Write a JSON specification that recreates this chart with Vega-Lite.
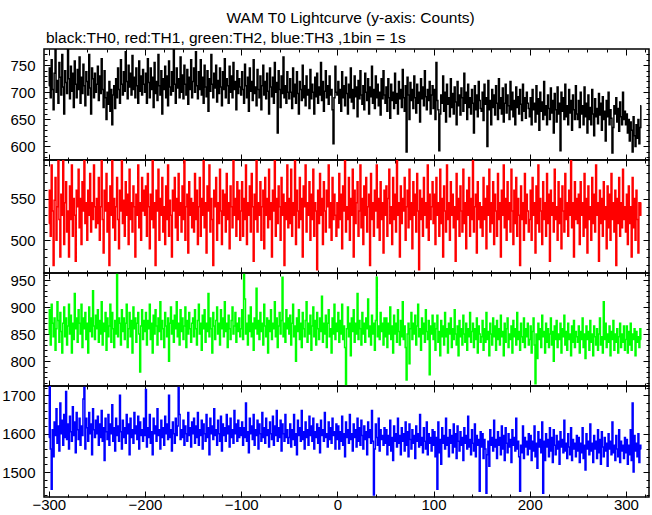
{
"$schema":"https://vega.github.io/schema/vega-lite/v6.json",
"background":"white",
"padding":{"left":0,"top":10,"right":0,"bottom":0},
"title":{"text":"WAM T0 Lightcurve (y-axis: Counts)","anchor":"middle","font":"Liberation Sans","fontSize":15.5,"fontWeight":"normal","color":"black","dx":25,"offset":4},
"spacing":0,
"bounds":"flush",
"config":{"view":{"stroke":"black","strokeWidth":1.5},"axis":{"labelFont":"Liberation Sans","labelFontSize":15,"labelColor":"black","tickColor":"black","tickWidth":1,"domain":false,"grid":false,"labelOverlap":false,"labelFlush":false,"format":"d"},"axisY":{"minExtent":40,"maxExtent":40},"axisX":{"minExtent":0,"maxExtent":0}},
"data":{"values":[
{"t":-300,"a":712,"b":520,"c":850,"d":1590},{"t":-299,"a":745,"b":560,"c":895,"d":1725},{"t":-298,"a":690,"b":505,"c":830,"d":1560},{"t":-297,"a":760,"b":590,"c":905,"d":1455},{"t":-296,"a":705,"b":535,"c":870,"d":1610},{"t":-295,"a":668,"b":470,"c":845,"d":1540},{"t":-294,"a":735,"b":548,"c":880,"d":1630},{"t":-293,"a":790,"b":575,"c":820,"d":1595},{"t":-292,"a":700,"b":500,"c":860,"d":1665},{"t":-291,"a":722,"b":540,"c":910,"d":1575},
{"t":-290,"a":680,"b":600,"c":875,"d":1620},{"t":-289,"a":755,"b":525,"c":835,"d":1555},{"t":-288,"a":728,"b":480,"c":890,"d":1680},{"t":-287,"a":695,"b":555,"c":855,"d":1600},{"t":-286,"a":770,"b":530,"c":815,"d":1635},{"t":-285,"a":710,"b":610,"c":870,"d":1570},{"t":-284,"a":660,"b":495,"c":900,"d":1650},{"t":-283,"a":740,"b":545,"c":845,"d":1590},{"t":-282,"a":718,"b":570,"c":880,"d":1710},{"t":-281,"a":698,"b":510,"c":830,"d":1585},
{"t":-280,"a":785,"b":535,"c":865,"d":1625},{"t":-279,"a":725,"b":480,"c":905,"d":1560},{"t":-278,"a":688,"b":565,"c":850,"d":1645},{"t":-277,"a":748,"b":525,"c":885,"d":1605},{"t":-276,"a":702,"b":590,"c":815,"d":1580},{"t":-275,"a":735,"b":505,"c":870,"d":1670},{"t":-274,"a":672,"b":550,"c":840,"d":1595},{"t":-273,"a":758,"b":530,"c":925,"d":1630},{"t":-272,"a":715,"b":475,"c":860,"d":1550},{"t":-271,"a":690,"b":560,"c":880,"d":1655},
{"t":-270,"a":742,"b":540,"c":835,"d":1610},{"t":-269,"a":705,"b":585,"c":895,"d":1585},{"t":-268,"a":765,"b":515,"c":870,"d":1640},{"t":-267,"a":680,"b":550,"c":850,"d":1570},{"t":-266,"a":728,"b":495,"c":905,"d":1620},{"t":-265,"a":698,"b":570,"c":825,"d":1595},{"t":-264,"a":752,"b":535,"c":880,"d":1690},{"t":-263,"a":712,"b":605,"c":860,"d":1720},{"t":-262,"a":675,"b":520,"c":890,"d":1560},{"t":-261,"a":738,"b":545,"c":840,"d":1640},
{"t":-260,"a":720,"b":500,"c":870,"d":1615},{"t":-259,"a":695,"b":560,"c":815,"d":1580},{"t":-258,"a":770,"b":530,"c":900,"d":1655},{"t":-257,"a":708,"b":580,"c":855,"d":1600},{"t":-256,"a":660,"b":510,"c":880,"d":1625},{"t":-255,"a":745,"b":545,"c":845,"d":1545},{"t":-254,"a":725,"b":525,"c":930,"d":1665},{"t":-253,"a":690,"b":590,"c":865,"d":1610},{"t":-252,"a":735,"b":540,"c":840,"d":1590},{"t":-251,"a":700,"b":515,"c":885,"d":1635},
{"t":-250,"a":715,"b":550,"c":860,"d":1600},{"t":-249,"a":748,"b":520,"c":895,"d":1645},{"t":-248,"a":685,"b":575,"c":835,"d":1570},{"t":-247,"a":730,"b":500,"c":875,"d":1625},{"t":-246,"a":698,"b":540,"c":850,"d":1590},{"t":-245,"a":762,"b":598,"c":910,"d":1660},{"t":-244,"a":705,"b":525,"c":830,"d":1580},{"t":-243,"a":672,"b":485,"c":870,"d":1615},{"t":-242,"a":740,"b":560,"c":855,"d":1530},{"t":-241,"a":690,"b":535,"c":890,"d":1640},
{"t":-240,"a":650,"b":580,"c":820,"d":1605},{"t":-239,"a":700,"b":510,"c":880,"d":1585},{"t":-238,"a":678,"b":545,"c":845,"d":1650},{"t":-237,"a":720,"b":470,"c":865,"d":1570},{"t":-236,"a":665,"b":565,"c":905,"d":1625},{"t":-235,"a":705,"b":530,"c":835,"d":1600},{"t":-234,"a":640,"b":595,"c":890,"d":1675},{"t":-233,"a":695,"b":515,"c":860,"d":1580},{"t":-232,"a":712,"b":550,"c":825,"d":1615},{"t":-231,"a":670,"b":500,"c":875,"d":1555},
{"t":-230,"a":725,"b":540,"c":850,"d":1640},{"t":-229,"a":690,"b":575,"c":960,"d":1595},{"t":-228,"a":745,"b":525,"c":845,"d":1620},{"t":-227,"a":705,"b":490,"c":880,"d":1580},{"t":-226,"a":680,"b":560,"c":870,"d":1700},{"t":-225,"a":760,"b":535,"c":830,"d":1605},{"t":-224,"a":715,"b":600,"c":895,"d":1560},{"t":-223,"a":695,"b":520,"c":855,"d":1635},{"t":-222,"a":738,"b":548,"c":880,"d":1590},{"t":-221,"a":702,"b":505,"c":840,"d":1615},
{"t":-220,"a":775,"b":570,"c":870,"d":1575},{"t":-219,"a":720,"b":530,"c":905,"d":1650},{"t":-218,"a":688,"b":555,"c":825,"d":1600},{"t":-217,"a":750,"b":495,"c":860,"d":1625},{"t":-216,"a":710,"b":585,"c":890,"d":1545},{"t":-215,"a":735,"b":525,"c":845,"d":1640},{"t":-214,"a":695,"b":545,"c":875,"d":1590},{"t":-213,"a":768,"b":510,"c":815,"d":1610},{"t":-212,"a":705,"b":565,"c":900,"d":1575},{"t":-211,"a":728,"b":540,"c":860,"d":1655},
{"t":-210,"a":690,"b":480,"c":880,"d":1600},{"t":-209,"a":745,"b":555,"c":835,"d":1620},{"t":-208,"a":712,"b":530,"c":870,"d":1585},{"t":-207,"a":680,"b":590,"c":890,"d":1645},{"t":-206,"a":758,"b":515,"c":850,"d":1560},{"t":-205,"a":702,"b":545,"c":780,"d":1630},{"t":-204,"a":730,"b":500,"c":865,"d":1595},{"t":-203,"a":695,"b":575,"c":895,"d":1610},{"t":-202,"a":742,"b":535,"c":840,"d":1580},{"t":-201,"a":715,"b":560,"c":875,"d":1640},
{"t":-200,"a":700,"b":530,"c":855,"d":1595},{"t":-199,"a":735,"b":565,"c":890,"d":1715},{"t":-198,"a":680,"b":505,"c":830,"d":1565},{"t":-197,"a":762,"b":580,"c":875,"d":1615},{"t":-196,"a":718,"b":540,"c":860,"d":1590},{"t":-195,"a":690,"b":490,"c":905,"d":1650},{"t":-194,"a":745,"b":555,"c":840,"d":1575},{"t":-193,"a":705,"b":525,"c":870,"d":1605},{"t":-192,"a":728,"b":600,"c":815,"d":1545},{"t":-191,"a":672,"b":515,"c":885,"d":1640},
{"t":-190,"a":755,"b":545,"c":850,"d":1600},{"t":-189,"a":698,"b":470,"c":895,"d":1620},{"t":-188,"a":720,"b":560,"c":865,"d":1580},{"t":-187,"a":685,"b":535,"c":830,"d":1665},{"t":-186,"a":770,"b":585,"c":880,"d":1595},{"t":-185,"a":712,"b":500,"c":855,"d":1610},{"t":-184,"a":695,"b":550,"c":910,"d":1560},{"t":-183,"a":740,"b":530,"c":840,"d":1635},{"t":-182,"a":660,"b":575,"c":875,"d":1590},{"t":-181,"a":725,"b":510,"c":860,"d":1615},
{"t":-180,"a":705,"b":540,"c":825,"d":1570},{"t":-179,"a":748,"b":495,"c":890,"d":1645},{"t":-178,"a":690,"b":565,"c":865,"d":1600},{"t":-177,"a":730,"b":525,"c":845,"d":1625},{"t":-176,"a":675,"b":590,"c":880,"d":1585},{"t":-175,"a":758,"b":505,"c":800,"d":1700},{"t":-174,"a":710,"b":548,"c":870,"d":1590},{"t":-173,"a":695,"b":530,"c":900,"d":1610},{"t":-172,"a":738,"b":480,"c":850,"d":1555},{"t":-171,"a":702,"b":560,"c":875,"d":1630},
{"t":-170,"a":785,"b":535,"c":835,"d":1600},{"t":-169,"a":715,"b":575,"c":885,"d":1575},{"t":-168,"a":680,"b":515,"c":860,"d":1640},{"t":-167,"a":745,"b":550,"c":910,"d":1595},{"t":-166,"a":708,"b":500,"c":845,"d":1620},{"t":-165,"a":725,"b":580,"c":870,"d":1720},{"t":-164,"a":690,"b":530,"c":830,"d":1650},{"t":-163,"a":765,"b":545,"c":895,"d":1585},{"t":-162,"a":700,"b":510,"c":855,"d":1610},{"t":-161,"a":732,"b":565,"c":880,"d":1590},
{"t":-160,"a":688,"b":525,"c":840,"d":1635},{"t":-159,"a":750,"b":595,"c":865,"d":1570},{"t":-158,"a":715,"b":500,"c":900,"d":1620},{"t":-157,"a":695,"b":540,"c":825,"d":1600},{"t":-156,"a":742,"b":555,"c":875,"d":1580},{"t":-155,"a":678,"b":485,"c":850,"d":1655},{"t":-154,"a":728,"b":570,"c":890,"d":1595},{"t":-153,"a":705,"b":530,"c":860,"d":1615},{"t":-152,"a":760,"b":550,"c":835,"d":1565},{"t":-151,"a":690,"b":515,"c":870,"d":1630},
{"t":-150,"a":720,"b":545,"c":880,"d":1600},{"t":-149,"a":745,"b":510,"c":845,"d":1640},{"t":-148,"a":700,"b":580,"c":895,"d":1575},{"t":-147,"a":775,"b":525,"c":860,"d":1620},{"t":-146,"a":712,"b":560,"c":830,"d":1590},{"t":-145,"a":688,"b":495,"c":875,"d":1655},{"t":-144,"a":738,"b":540,"c":905,"d":1570},{"t":-143,"a":705,"b":575,"c":850,"d":1610},{"t":-142,"a":760,"b":505,"c":870,"d":1595},{"t":-141,"a":695,"b":550,"c":820,"d":1635},
{"t":-140,"a":728,"b":530,"c":885,"d":1560},{"t":-139,"a":680,"b":600,"c":860,"d":1625},{"t":-138,"a":750,"b":515,"c":895,"d":1600},{"t":-137,"a":710,"b":545,"c":835,"d":1580},{"t":-136,"a":692,"b":485,"c":870,"d":1650},{"t":-135,"a":740,"b":565,"c":855,"d":1590},{"t":-134,"a":665,"b":535,"c":925,"d":1615},{"t":-133,"a":725,"b":590,"c":845,"d":1545},{"t":-132,"a":702,"b":510,"c":880,"d":1640},{"t":-131,"a":770,"b":550,"c":860,"d":1600},
{"t":-130,"a":715,"b":525,"c":815,"d":1620},{"t":-129,"a":690,"b":470,"c":890,"d":1585},{"t":-128,"a":735,"b":560,"c":865,"d":1665},{"t":-127,"a":708,"b":540,"c":840,"d":1595},{"t":-126,"a":750,"b":575,"c":875,"d":1610},{"t":-125,"a":682,"b":500,"c":900,"d":1570},{"t":-124,"a":722,"b":545,"c":850,"d":1635},{"t":-123,"a":698,"b":520,"c":870,"d":1600},{"t":-122,"a":745,"b":585,"c":830,"d":1580},{"t":-121,"a":710,"b":535,"c":895,"d":1645},
{"t":-120,"a":675,"b":495,"c":860,"d":1555},{"t":-119,"a":738,"b":560,"c":880,"d":1625},{"t":-118,"a":705,"b":530,"c":845,"d":1595},{"t":-117,"a":762,"b":555,"c":910,"d":1615},{"t":-116,"a":690,"b":510,"c":855,"d":1580},{"t":-115,"a":725,"b":580,"c":870,"d":1650},{"t":-114,"a":712,"b":525,"c":825,"d":1600},{"t":-113,"a":680,"b":545,"c":885,"d":1620},{"t":-112,"a":748,"b":490,"c":860,"d":1565},{"t":-111,"a":700,"b":565,"c":840,"d":1640},
{"t":-110,"a":730,"b":540,"c":875,"d":1590},{"t":-109,"a":690,"b":515,"c":900,"d":1610},{"t":-108,"a":755,"b":595,"c":850,"d":1575},{"t":-107,"a":705,"b":530,"c":865,"d":1660},{"t":-106,"a":720,"b":550,"c":890,"d":1600},{"t":-105,"a":668,"b":505,"c":835,"d":1625},{"t":-104,"a":740,"b":570,"c":870,"d":1580},{"t":-103,"a":698,"b":525,"c":855,"d":1635},{"t":-102,"a":725,"b":560,"c":880,"d":1590},{"t":-101,"a":710,"b":500,"c":845,"d":1615},
{"t":-100,"a":695,"b":535,"c":860,"d":1595},{"t":-99,"a":738,"b":570,"c":895,"d":1630},{"t":-98,"a":705,"b":505,"c":840,"d":1570},{"t":-97,"a":680,"b":550,"c":960,"d":1615},{"t":-96,"a":752,"b":525,"c":915,"d":1590},{"t":-95,"a":712,"b":590,"c":850,"d":1680},{"t":-94,"a":690,"b":495,"c":870,"d":1580},{"t":-93,"a":728,"b":545,"c":830,"d":1605},{"t":-92,"a":665,"b":530,"c":885,"d":1550},{"t":-91,"a":745,"b":565,"c":855,"d":1640},
{"t":-90,"a":702,"b":510,"c":900,"d":1600},{"t":-89,"a":720,"b":580,"c":845,"d":1620},{"t":-88,"a":685,"b":540,"c":870,"d":1585},{"t":-87,"a":760,"b":475,"c":820,"d":1650},{"t":-86,"a":698,"b":555,"c":880,"d":1570},{"t":-85,"a":710,"b":525,"c":860,"d":1610},{"t":-84,"a":675,"b":600,"c":935,"d":1595},{"t":-83,"a":742,"b":510,"c":850,"d":1635},{"t":-82,"a":705,"b":545,"c":875,"d":1560},{"t":-81,"a":690,"b":530,"c":840,"d":1625},
{"t":-80,"a":730,"b":570,"c":890,"d":1600},{"t":-79,"a":668,"b":500,"c":855,"d":1580},{"t":-78,"a":712,"b":540,"c":870,"d":1655},{"t":-77,"a":750,"b":560,"c":830,"d":1590},{"t":-76,"a":695,"b":490,"c":905,"d":1615},{"t":-75,"a":720,"b":575,"c":865,"d":1575},{"t":-74,"a":688,"b":530,"c":845,"d":1640},{"t":-73,"a":735,"b":550,"c":880,"d":1595},{"t":-72,"a":702,"b":515,"c":815,"d":1610},{"t":-71,"a":660,"b":585,"c":875,"d":1565},
{"t":-70,"a":745,"b":525,"c":855,"d":1630},{"t":-69,"a":710,"b":545,"c":895,"d":1600},{"t":-68,"a":692,"b":480,"c":840,"d":1585},{"t":-67,"a":728,"b":560,"c":870,"d":1645},{"t":-66,"a":680,"b":535,"c":860,"d":1570},{"t":-65,"a":755,"b":595,"c":910,"d":1620},{"t":-64,"a":700,"b":505,"c":845,"d":1595},{"t":-63,"a":718,"b":550,"c":880,"d":1660},{"t":-62,"a":625,"b":520,"c":825,"d":1580},{"t":-61,"a":740,"b":565,"c":865,"d":1615},
{"t":-60,"a":705,"b":540,"c":890,"d":1590},{"t":-59,"a":672,"b":500,"c":850,"d":1635},{"t":-58,"a":730,"b":575,"c":875,"d":1555},{"t":-57,"a":698,"b":530,"c":955,"d":1625},{"t":-56,"a":765,"b":555,"c":845,"d":1600},{"t":-55,"a":690,"b":470,"c":870,"d":1580},{"t":-54,"a":712,"b":545,"c":835,"d":1650},{"t":-53,"a":680,"b":525,"c":895,"d":1590},{"t":-52,"a":738,"b":590,"c":860,"d":1610},{"t":-51,"a":700,"b":515,"c":880,"d":1575},
{"t":-50,"a":688,"b":550,"c":850,"d":1590},{"t":-49,"a":725,"b":520,"c":885,"d":1625},{"t":-48,"a":700,"b":585,"c":830,"d":1565},{"t":-47,"a":670,"b":505,"c":870,"d":1610},{"t":-46,"a":745,"b":545,"c":905,"d":1585},{"t":-45,"a":692,"b":530,"c":845,"d":1650},{"t":-44,"a":715,"b":600,"c":865,"d":1570},{"t":-43,"a":680,"b":495,"c":800,"d":1600},{"t":-42,"a":738,"b":560,"c":880,"d":1545},{"t":-41,"a":698,"b":535,"c":855,"d":1635},
{"t":-40,"a":660,"b":515,"c":895,"d":1595},{"t":-39,"a":720,"b":575,"c":840,"d":1615},{"t":-38,"a":705,"b":525,"c":870,"d":1580},{"t":-37,"a":685,"b":550,"c":825,"d":1660},{"t":-36,"a":750,"b":480,"c":890,"d":1585},{"t":-35,"a":690,"b":565,"c":860,"d":1605},{"t":-34,"a":712,"b":540,"c":845,"d":1560},{"t":-33,"a":675,"b":590,"c":875,"d":1630},{"t":-32,"a":730,"b":510,"c":910,"d":1590},{"t":-31,"a":695,"b":545,"c":835,"d":1610},
{"t":-30,"a":705,"b":530,"c":870,"d":1570},{"t":-29,"a":670,"b":570,"c":850,"d":1645},{"t":-28,"a":742,"b":500,"c":885,"d":1595},{"t":-27,"a":688,"b":555,"c":820,"d":1620},{"t":-26,"a":715,"b":525,"c":865,"d":1580},{"t":-25,"a":700,"b":585,"c":900,"d":1640},{"t":-24,"a":660,"b":505,"c":845,"d":1560},{"t":-23,"a":728,"b":545,"c":875,"d":1605},{"t":-22,"a":692,"b":535,"c":830,"d":1590},{"t":-21,"a":735,"b":465,"c":890,"d":1625},
{"t":-20,"a":680,"b":560,"c":860,"d":1575},{"t":-19,"a":710,"b":520,"c":840,"d":1615},{"t":-18,"a":695,"b":580,"c":880,"d":1550},{"t":-17,"a":755,"b":530,"c":855,"d":1635},{"t":-16,"a":685,"b":550,"c":920,"d":1595},{"t":-15,"a":720,"b":495,"c":835,"d":1610},{"t":-14,"a":665,"b":570,"c":870,"d":1580},{"t":-13,"a":702,"b":535,"c":850,"d":1655},{"t":-12,"a":740,"b":510,"c":885,"d":1590},{"t":-11,"a":690,"b":560,"c":825,"d":1600},
{"t":-10,"a":712,"b":540,"c":870,"d":1565},{"t":-9,"a":678,"b":590,"c":895,"d":1630},{"t":-8,"a":730,"b":515,"c":845,"d":1585},{"t":-7,"a":695,"b":545,"c":860,"d":1615},{"t":-6,"a":705,"b":500,"c":815,"d":1575},{"t":-5,"a":668,"b":575,"c":880,"d":1640},{"t":-4,"a":605,"b":525,"c":850,"d":1595},{"t":-3,"a":690,"b":555,"c":905,"d":1605},{"t":-2,"a":748,"b":530,"c":840,"d":1560},{"t":-1,"a":700,"b":505,"c":870,"d":1625},
{"t":0,"a":695,"b":545,"c":855,"d":1585},{"t":1,"a":720,"b":515,"c":890,"d":1620},{"t":2,"a":680,"b":580,"c":835,"d":1560},{"t":3,"a":705,"b":525,"c":875,"d":1605},{"t":4,"a":665,"b":555,"c":850,"d":1580},{"t":5,"a":738,"b":490,"c":905,"d":1645},{"t":6,"a":690,"b":565,"c":840,"d":1570},{"t":7,"a":712,"b":535,"c":865,"d":1600},{"t":8,"a":675,"b":600,"c":825,"d":1540},{"t":9,"a":728,"b":510,"c":755,"d":1630},
{"t":10,"a":698,"b":540,"c":860,"d":1590},{"t":11,"a":660,"b":525,"c":900,"d":1610},{"t":12,"a":715,"b":575,"c":845,"d":1575},{"t":13,"a":690,"b":500,"c":870,"d":1650},{"t":14,"a":745,"b":550,"c":810,"d":1585},{"t":15,"a":682,"b":530,"c":880,"d":1600},{"t":16,"a":705,"b":585,"c":855,"d":1555},{"t":17,"a":670,"b":480,"c":895,"d":1625},{"t":18,"a":730,"b":560,"c":835,"d":1590},{"t":19,"a":692,"b":520,"c":870,"d":1610},
{"t":20,"a":710,"b":545,"c":850,"d":1565},{"t":21,"a":655,"b":570,"c":925,"d":1640},{"t":22,"a":722,"b":505,"c":840,"d":1580},{"t":23,"a":688,"b":535,"c":875,"d":1615},{"t":24,"a":740,"b":590,"c":860,"d":1570},{"t":25,"a":695,"b":515,"c":830,"d":1635},{"t":26,"a":678,"b":550,"c":890,"d":1595},{"t":27,"a":712,"b":495,"c":850,"d":1560},{"t":28,"a":668,"b":565,"c":870,"d":1620},{"t":29,"a":735,"b":530,"c":835,"d":1585},
{"t":30,"a":700,"b":575,"c":880,"d":1605},{"t":31,"a":685,"b":510,"c":860,"d":1545},{"t":32,"a":725,"b":540,"c":915,"d":1630},{"t":33,"a":660,"b":555,"c":845,"d":1590},{"t":34,"a":710,"b":470,"c":865,"d":1610},{"t":35,"a":692,"b":580,"c":830,"d":1575},{"t":36,"a":748,"b":525,"c":885,"d":1660},{"t":37,"a":680,"b":545,"c":850,"d":1580},{"t":38,"a":705,"b":505,"c":870,"d":1440},{"t":39,"a":670,"b":560,"c":820,"d":1560},
{"t":40,"a":730,"b":535,"c":875,"d":1625},{"t":41,"a":690,"b":590,"c":955,"d":1590},{"t":42,"a":715,"b":515,"c":845,"d":1570},{"t":43,"a":675,"b":550,"c":865,"d":1640},{"t":44,"a":700,"b":500,"c":840,"d":1555},{"t":45,"a":658,"b":570,"c":890,"d":1610},{"t":46,"a":725,"b":525,"c":855,"d":1585},{"t":47,"a":688,"b":545,"c":870,"d":1595},{"t":48,"a":740,"b":485,"c":830,"d":1570},{"t":49,"a":695,"b":560,"c":880,"d":1615},
{"t":50,"a":680,"b":530,"c":845,"d":1575},{"t":51,"a":710,"b":565,"c":880,"d":1610},{"t":52,"a":665,"b":505,"c":825,"d":1545},{"t":53,"a":725,"b":550,"c":870,"d":1595},{"t":54,"a":690,"b":585,"c":850,"d":1570},{"t":55,"a":652,"b":520,"c":900,"d":1635},{"t":56,"a":715,"b":540,"c":840,"d":1555},{"t":57,"a":685,"b":495,"c":865,"d":1590},{"t":58,"a":700,"b":575,"c":815,"d":1530},{"t":59,"a":670,"b":525,"c":885,"d":1620},
{"t":60,"a":735,"b":555,"c":850,"d":1580},{"t":61,"a":680,"b":510,"c":870,"d":1600},{"t":62,"a":698,"b":595,"c":835,"d":1565},{"t":63,"a":660,"b":530,"c":895,"d":1640},{"t":64,"a":720,"b":545,"c":855,"d":1575},{"t":65,"a":688,"b":480,"c":830,"d":1595},{"t":66,"a":705,"b":565,"c":875,"d":1545},{"t":67,"a":672,"b":520,"c":845,"d":1615},{"t":68,"a":742,"b":550,"c":910,"d":1580},{"t":69,"a":690,"b":535,"c":840,"d":1600},
{"t":70,"a":665,"b":575,"c":865,"d":1555},{"t":71,"a":712,"b":500,"c":825,"d":1630},{"t":72,"a":590,"b":540,"c":765,"d":1570},{"t":73,"a":728,"b":560,"c":850,"d":1605},{"t":74,"a":695,"b":515,"c":870,"d":1540},{"t":75,"a":650,"b":585,"c":795,"d":1625},{"t":76,"a":718,"b":525,"c":860,"d":1585},{"t":77,"a":685,"b":545,"c":890,"d":1560},{"t":78,"a":705,"b":490,"c":840,"d":1610},{"t":79,"a":670,"b":570,"c":870,"d":1575},
{"t":80,"a":730,"b":530,"c":850,"d":1595},{"t":81,"a":690,"b":555,"c":885,"d":1535},{"t":82,"a":662,"b":510,"c":830,"d":1620},{"t":83,"a":715,"b":580,"c":865,"d":1580},{"t":84,"a":680,"b":535,"c":905,"d":1600},{"t":85,"a":700,"b":465,"c":845,"d":1565},{"t":86,"a":645,"b":560,"c":860,"d":1650},{"t":87,"a":725,"b":525,"c":820,"d":1570},{"t":88,"a":688,"b":550,"c":880,"d":1590},{"t":89,"a":710,"b":505,"c":850,"d":1550},
{"t":90,"a":675,"b":575,"c":870,"d":1615},{"t":91,"a":740,"b":530,"c":835,"d":1580},{"t":92,"a":692,"b":545,"c":895,"d":1560},{"t":93,"a":668,"b":515,"c":855,"d":1630},{"t":94,"a":705,"b":590,"c":840,"d":1545},{"t":95,"a":685,"b":500,"c":875,"d":1600},{"t":96,"a":720,"b":555,"c":775,"d":1575},{"t":97,"a":660,"b":525,"c":865,"d":1590},{"t":98,"a":695,"b":540,"c":850,"d":1555},{"t":99,"a":712,"b":570,"c":885,"d":1610},
{"t":100,"a":670,"b":520,"c":840,"d":1570},{"t":101,"a":705,"b":555,"c":870,"d":1605},{"t":102,"a":650,"b":495,"c":820,"d":1540},{"t":103,"a":755,"b":575,"c":860,"d":1590},{"t":104,"a":685,"b":530,"c":885,"d":1455},{"t":105,"a":668,"b":545,"c":835,"d":1630},{"t":106,"a":592,"b":505,"c":855,"d":1550},{"t":107,"a":660,"b":585,"c":810,"d":1585},{"t":108,"a":695,"b":520,"c":875,"d":1520},{"t":109,"a":680,"b":550,"c":845,"d":1615},
{"t":110,"a":730,"b":480,"c":865,"d":1575},{"t":111,"a":665,"b":565,"c":830,"d":1595},{"t":112,"a":700,"b":535,"c":890,"d":1560},{"t":113,"a":645,"b":510,"c":845,"d":1640},{"t":114,"a":715,"b":590,"c":860,"d":1570},{"t":115,"a":678,"b":525,"c":815,"d":1590},{"t":116,"a":690,"b":545,"c":870,"d":1540},{"t":117,"a":655,"b":500,"c":850,"d":1610},{"t":118,"a":725,"b":570,"c":880,"d":1575},{"t":119,"a":672,"b":530,"c":825,"d":1595},
{"t":120,"a":698,"b":555,"c":860,"d":1550},{"t":121,"a":660,"b":515,"c":840,"d":1625},{"t":122,"a":710,"b":540,"c":895,"d":1565},{"t":123,"a":682,"b":475,"c":850,"d":1600},{"t":124,"a":640,"b":580,"c":830,"d":1535},{"t":125,"a":720,"b":525,"c":865,"d":1620},{"t":126,"a":675,"b":550,"c":810,"d":1580},{"t":127,"a":695,"b":505,"c":875,"d":1555},{"t":128,"a":658,"b":565,"c":845,"d":1605},{"t":129,"a":708,"b":535,"c":860,"d":1570},
{"t":130,"a":690,"b":510,"c":830,"d":1590},{"t":131,"a":665,"b":585,"c":885,"d":1530},{"t":132,"a":735,"b":520,"c":850,"d":1615},{"t":133,"a":680,"b":545,"c":835,"d":1575},{"t":134,"a":700,"b":490,"c":870,"d":1595},{"t":135,"a":650,"b":560,"c":820,"d":1560},{"t":136,"a":715,"b":530,"c":860,"d":1645},{"t":137,"a":672,"b":575,"c":845,"d":1565},{"t":138,"a":690,"b":505,"c":890,"d":1585},{"t":139,"a":660,"b":550,"c":835,"d":1545},
{"t":140,"a":705,"b":525,"c":855,"d":1610},{"t":141,"a":680,"b":595,"c":870,"d":1575},{"t":142,"a":625,"b":510,"c":825,"d":1555},{"t":143,"a":712,"b":540,"c":860,"d":1625},{"t":144,"a":668,"b":555,"c":840,"d":1540},{"t":145,"a":695,"b":485,"c":880,"d":1595},{"t":146,"a":655,"b":570,"c":815,"d":1570},{"t":147,"a":720,"b":525,"c":865,"d":1585},{"t":148,"a":685,"b":545,"c":850,"d":1450},{"t":149,"a":670,"b":515,"c":835,"d":1605},
{"t":150,"a":665,"b":540,"c":845,"d":1565},{"t":151,"a":700,"b":505,"c":875,"d":1600},{"t":152,"a":648,"b":575,"c":820,"d":1535},{"t":153,"a":715,"b":525,"c":860,"d":1585},{"t":154,"a":678,"b":550,"c":835,"d":1560},{"t":155,"a":690,"b":490,"c":890,"d":1445},{"t":156,"a":600,"b":565,"c":840,"d":1545},{"t":157,"a":722,"b":530,"c":855,"d":1580},{"t":158,"a":668,"b":585,"c":810,"d":1515},{"t":159,"a":685,"b":510,"c":870,"d":1610},
{"t":160,"a":640,"b":545,"c":850,"d":1570},{"t":161,"a":705,"b":520,"c":830,"d":1590},{"t":162,"a":672,"b":570,"c":880,"d":1555},{"t":163,"a":695,"b":495,"c":845,"d":1635},{"t":164,"a":658,"b":555,"c":865,"d":1565},{"t":165,"a":712,"b":535,"c":820,"d":1585},{"t":166,"a":680,"b":505,"c":875,"d":1535},{"t":167,"a":650,"b":580,"c":840,"d":1605},{"t":168,"a":725,"b":525,"c":860,"d":1570},{"t":169,"a":670,"b":545,"c":830,"d":1590},
{"t":170,"a":690,"b":480,"c":885,"d":1545},{"t":171,"a":660,"b":560,"c":845,"d":1620},{"t":172,"a":708,"b":530,"c":855,"d":1560},{"t":173,"a":645,"b":590,"c":810,"d":1595},{"t":174,"a":680,"b":515,"c":870,"d":1530},{"t":175,"a":715,"b":550,"c":835,"d":1615},{"t":176,"a":662,"b":500,"c":860,"d":1575},{"t":177,"a":695,"b":570,"c":880,"d":1550},{"t":178,"a":675,"b":525,"c":825,"d":1600},{"t":179,"a":650,"b":545,"c":850,"d":1565},
{"t":180,"a":720,"b":510,"c":840,"d":1585},{"t":181,"a":668,"b":585,"c":865,"d":1525},{"t":182,"a":700,"b":535,"c":815,"d":1610},{"t":183,"a":655,"b":495,"c":875,"d":1570},{"t":184,"a":685,"b":560,"c":845,"d":1590},{"t":185,"a":640,"b":520,"c":860,"d":1555},{"t":186,"a":710,"b":575,"c":830,"d":1640},{"t":187,"a":672,"b":505,"c":890,"d":1560},{"t":188,"a":692,"b":550,"c":840,"d":1580},{"t":189,"a":660,"b":530,"c":855,"d":1540},
{"t":190,"a":705,"b":470,"c":820,"d":1450},{"t":191,"a":678,"b":565,"c":870,"d":1570},{"t":192,"a":648,"b":525,"c":845,"d":1550},{"t":193,"a":715,"b":545,"c":835,"d":1620},{"t":194,"a":665,"b":500,"c":880,"d":1535},{"t":195,"a":690,"b":580,"c":825,"d":1590},{"t":196,"a":652,"b":520,"c":860,"d":1565},{"t":197,"a":700,"b":555,"c":845,"d":1580},{"t":198,"a":680,"b":535,"c":870,"d":1545},{"t":199,"a":670,"b":510,"c":830,"d":1600},
{"t":200,"a":655,"b":525,"c":840,"d":1560},{"t":201,"a":690,"b":560,"c":865,"d":1595},{"t":202,"a":640,"b":500,"c":815,"d":1530},{"t":203,"a":705,"b":575,"c":855,"d":1580},{"t":204,"a":668,"b":530,"c":880,"d":1555},{"t":205,"a":680,"b":545,"c":830,"d":1620},{"t":206,"a":645,"b":485,"c":758,"d":1540},{"t":207,"a":712,"b":565,"c":850,"d":1575},{"t":208,"a":660,"b":520,"c":805,"d":1510},{"t":209,"a":688,"b":590,"c":870,"d":1605},
{"t":210,"a":630,"b":510,"c":840,"d":1565},{"t":211,"a":700,"b":550,"c":860,"d":1585},{"t":212,"a":665,"b":535,"c":825,"d":1550},{"t":213,"a":682,"b":495,"c":885,"d":1630},{"t":214,"a":650,"b":570,"c":845,"d":1445},{"t":215,"a":720,"b":525,"c":855,"d":1580},{"t":216,"a":658,"b":545,"c":815,"d":1530},{"t":217,"a":675,"b":505,"c":870,"d":1600},{"t":218,"a":640,"b":580,"c":835,"d":1565},{"t":219,"a":695,"b":520,"c":860,"d":1585},
{"t":220,"a":670,"b":555,"c":825,"d":1540},{"t":221,"a":650,"b":475,"c":850,"d":1615},{"t":222,"a":708,"b":560,"c":880,"d":1555},{"t":223,"a":662,"b":530,"c":830,"d":1590},{"t":224,"a":685,"b":545,"c":855,"d":1525},{"t":225,"a":625,"b":510,"c":800,"d":1610},{"t":226,"a":698,"b":585,"c":865,"d":1570},{"t":227,"a":668,"b":525,"c":840,"d":1545},{"t":228,"a":645,"b":540,"c":875,"d":1595},{"t":229,"a":710,"b":500,"c":825,"d":1560},
{"t":230,"a":660,"b":570,"c":850,"d":1580},{"t":231,"a":680,"b":520,"c":840,"d":1520},{"t":232,"a":592,"b":550,"c":870,"d":1605},{"t":233,"a":700,"b":490,"c":815,"d":1565},{"t":234,"a":665,"b":565,"c":860,"d":1585},{"t":235,"a":690,"b":535,"c":845,"d":1550},{"t":236,"a":650,"b":510,"c":885,"d":1635},{"t":237,"a":715,"b":580,"c":830,"d":1555},{"t":238,"a":655,"b":525,"c":855,"d":1575},{"t":239,"a":675,"b":545,"c":820,"d":1535},
{"t":240,"a":640,"b":505,"c":870,"d":1600},{"t":241,"a":705,"b":560,"c":840,"d":1565},{"t":242,"a":662,"b":530,"c":850,"d":1545},{"t":243,"a":685,"b":595,"c":810,"d":1615},{"t":244,"a":630,"b":515,"c":865,"d":1530},{"t":245,"a":695,"b":545,"c":835,"d":1585},{"t":246,"a":668,"b":480,"c":875,"d":1560},{"t":247,"a":650,"b":570,"c":825,"d":1575},{"t":248,"a":712,"b":525,"c":855,"d":1540},{"t":249,"a":660,"b":550,"c":845,"d":1595},
{"t":250,"a":650,"b":520,"c":835,"d":1555},{"t":251,"a":685,"b":555,"c":865,"d":1590},{"t":252,"a":635,"b":495,"c":815,"d":1525},{"t":253,"a":700,"b":570,"c":855,"d":1575},{"t":254,"a":660,"b":530,"c":840,"d":1550},{"t":255,"a":675,"b":545,"c":880,"d":1615},{"t":256,"a":640,"b":505,"c":825,"d":1535},{"t":257,"a":710,"b":580,"c":850,"d":1570},{"t":258,"a":655,"b":515,"c":805,"d":1505},{"t":259,"a":680,"b":550,"c":865,"d":1600},
{"t":260,"a":625,"b":485,"c":840,"d":1560},{"t":261,"a":695,"b":565,"c":855,"d":1580},{"t":262,"a":650,"b":525,"c":820,"d":1545},{"t":263,"a":672,"b":540,"c":875,"d":1625},{"t":264,"a":640,"b":500,"c":835,"d":1555},{"t":265,"a":705,"b":575,"c":850,"d":1575},{"t":266,"a":660,"b":520,"c":810,"d":1525},{"t":267,"a":620,"b":555,"c":865,"d":1595},{"t":268,"a":688,"b":510,"c":845,"d":1560},{"t":269,"a":655,"b":590,"c":830,"d":1580},
{"t":270,"a":670,"b":530,"c":860,"d":1535},{"t":271,"a":642,"b":545,"c":820,"d":1610},{"t":272,"a":698,"b":475,"c":850,"d":1550},{"t":273,"a":658,"b":560,"c":880,"d":1585},{"t":274,"a":680,"b":520,"c":830,"d":1520},{"t":275,"a":630,"b":550,"c":845,"d":1605},{"t":276,"a":692,"b":505,"c":815,"d":1565},{"t":277,"a":650,"b":570,"c":910,"d":1540},{"t":278,"a":665,"b":525,"c":840,"d":1590},{"t":279,"a":610,"b":540,"c":870,"d":1555},
{"t":280,"a":685,"b":490,"c":825,"d":1575},{"t":281,"a":655,"b":565,"c":850,"d":1515},{"t":282,"a":700,"b":515,"c":835,"d":1600},{"t":283,"a":640,"b":555,"c":865,"d":1560},{"t":284,"a":668,"b":500,"c":810,"d":1580},{"t":285,"a":652,"b":580,"c":855,"d":1545},{"t":286,"a":588,"b":525,"c":840,"d":1630},{"t":287,"a":635,"b":545,"c":875,"d":1550},{"t":288,"a":675,"b":510,"c":820,"d":1570},{"t":289,"a":660,"b":560,"c":850,"d":1530},
{"t":290,"a":690,"b":470,"c":835,"d":1595},{"t":291,"a":645,"b":550,"c":860,"d":1560},{"t":292,"a":670,"b":520,"c":815,"d":1540},{"t":293,"a":628,"b":575,"c":845,"d":1610},{"t":294,"a":682,"b":505,"c":870,"d":1525},{"t":295,"a":655,"b":545,"c":825,"d":1580},{"t":296,"a":640,"b":515,"c":850,"d":1555},{"t":297,"a":700,"b":585,"c":835,"d":1570},{"t":298,"a":650,"b":525,"c":865,"d":1535},{"t":299,"a":665,"b":540,"c":820,"d":1590},
{"t":300,"a":640,"b":510,"c":840,"d":1550},{"t":301,"a":660,"b":555,"c":865,"d":1585},{"t":302,"a":625,"b":495,"c":815,"d":1520},{"t":303,"a":650,"b":565,"c":855,"d":1570},{"t":304,"a":610,"b":520,"c":830,"d":1545},{"t":305,"a":645,"b":540,"c":870,"d":1610},{"t":306,"a":630,"b":480,"c":820,"d":1530},{"t":307,"a":590,"b":575,"c":850,"d":1680},{"t":308,"a":655,"b":515,"c":840,"d":1500},{"t":309,"a":620,"b":550,"c":860,"d":1595},
{"t":310,"a":600,"b":500,"c":810,"d":1555},{"t":311,"a":640,"b":560,"c":855,"d":1575},{"t":312,"a":615,"b":525,"c":835,"d":1540},{"t":313,"a":650,"b":485,"c":845,"d":1600},{"t":314,"a":605,"b":545,"c":825,"d":1525},{"t":315,"a":635,"b":530,"c":860,"d":1570},{"t":316,"a":675,"b":545,"c":840,"d":1560}
]},
"vconcat":[
{"width":605,"height":111,
"title":{"text":"black:TH0, red:TH1, green:TH2, blue:TH3 ,1bin = 1s","anchor":"start","frame":"group","font":"Liberation Sans","fontSize":15.5,"fontWeight":"normal","color":"black","dx":2,"offset":1},
"layer":[
{"mark":{"type":"line","color":"#000000","strokeWidth":1.5,"interpolate":"step","clip":true},
"encoding":{"x":{"field":"t","type":"quantitative","title":null,"scale":{"domain":[-305,324],"nice":false,"zero":false},"axis":{"orient":"bottom","values":[-300,-280,-260,-240,-220,-200,-180,-160,-140,-120,-100,-80,-60,-40,-20,0,20,40,60,80,100,120,140,160,180,200,220,240,260,280,300,320],"labels":false,"tickSize":{"condition":{"test":"datum.value % 100 === 0","value":-6},"value":-3}}},
"y":{"field":"a","type":"quantitative","title":null,"scale":{"domain":[575,780],"nice":false,"zero":false},"axis":{"orient":"left","values":[580,590,600,610,620,630,640,650,660,670,680,690,700,710,720,730,740,750,760,770],"labelPadding":15,"labelExpr":"datum.value % 50 === 0 ? datum.label : ''","tickSize":{"condition":{"test":"datum.value % 50 === 0","value":-6},"value":-3}}}}},
{"mark":{"type":"line","opacity":0,"clip":true},
"encoding":{"x":{"field":"t","type":"quantitative","title":null,"axis":{"orient":"top","values":[-300,-280,-260,-240,-220,-200,-180,-160,-140,-120,-100,-80,-60,-40,-20,0,20,40,60,80,100,120,140,160,180,200,220,240,260,280,300,320],"labels":false,"tickSize":{"condition":{"test":"datum.value % 100 === 0","value":-6},"value":-3}}},
"y":{"field":"a","type":"quantitative","title":null,"axis":{"orient":"right","values":[580,590,600,610,620,630,640,650,660,670,680,690,700,710,720,730,740,750,760,770],"labels":false,"minExtent":0,"maxExtent":0,"tickSize":{"condition":{"test":"datum.value % 50 === 0","value":-6},"value":-3}}}}}
],
"resolve":{"axis":{"x":"independent","y":"independent"}}},
{"width":605,"height":113,
"layer":[
{"mark":{"type":"line","color":"#ff0000","strokeWidth":1.5,"interpolate":"step","clip":true},
"encoding":{"x":{"field":"t","type":"quantitative","title":null,"scale":{"domain":[-305,324],"nice":false,"zero":false},"axis":{"orient":"bottom","values":[-300,-280,-260,-240,-220,-200,-180,-160,-140,-120,-100,-80,-60,-40,-20,0,20,40,60,80,100,120,140,160,180,200,220,240,260,280,300,320],"labels":false,"tickSize":{"condition":{"test":"datum.value % 100 === 0","value":-6},"value":-3}}},
"y":{"field":"b","type":"quantitative","title":null,"scale":{"domain":[461,596],"nice":false,"zero":false},"axis":{"orient":"left","values":[470,480,490,500,510,520,530,540,550,560,570,580,590],"labelPadding":15,"labelExpr":"datum.value % 50 === 0 ? datum.label : ''","tickSize":{"condition":{"test":"datum.value % 50 === 0","value":-6},"value":-3}}}}},
{"mark":{"type":"line","opacity":0,"clip":true},
"encoding":{"x":{"field":"t","type":"quantitative","title":null,"axis":{"orient":"top","values":[-300,-280,-260,-240,-220,-200,-180,-160,-140,-120,-100,-80,-60,-40,-20,0,20,40,60,80,100,120,140,160,180,200,220,240,260,280,300,320],"labels":false,"tickSize":{"condition":{"test":"datum.value % 100 === 0","value":-6},"value":-3}}},
"y":{"field":"b","type":"quantitative","title":null,"axis":{"orient":"right","values":[470,480,490,500,510,520,530,540,550,560,570,580,590],"labels":false,"minExtent":0,"maxExtent":0,"tickSize":{"condition":{"test":"datum.value % 50 === 0","value":-6},"value":-3}}}}}
],
"resolve":{"axis":{"x":"independent","y":"independent"}}},
{"width":605,"height":113,
"layer":[
{"mark":{"type":"line","color":"#00ff00","strokeWidth":1.5,"interpolate":"step","clip":true},
"encoding":{"x":{"field":"t","type":"quantitative","title":null,"scale":{"domain":[-305,324],"nice":false,"zero":false},"axis":{"orient":"bottom","values":[-300,-280,-260,-240,-220,-200,-180,-160,-140,-120,-100,-80,-60,-40,-20,0,20,40,60,80,100,120,140,160,180,200,220,240,260,280,300,320],"labels":false,"tickSize":{"condition":{"test":"datum.value % 100 === 0","value":-6},"value":-3}}},
"y":{"field":"c","type":"quantitative","title":null,"scale":{"domain":[754,963],"nice":false,"zero":false},"axis":{"orient":"left","values":[760,770,780,790,800,810,820,830,840,850,860,870,880,890,900,910,920,930,940,950,960],"labelPadding":15,"labelExpr":"datum.value % 50 === 0 ? datum.label : ''","tickSize":{"condition":{"test":"datum.value % 50 === 0","value":-6},"value":-3}}}}},
{"mark":{"type":"line","opacity":0,"clip":true},
"encoding":{"x":{"field":"t","type":"quantitative","title":null,"axis":{"orient":"top","values":[-300,-280,-260,-240,-220,-200,-180,-160,-140,-120,-100,-80,-60,-40,-20,0,20,40,60,80,100,120,140,160,180,200,220,240,260,280,300,320],"labels":false,"tickSize":{"condition":{"test":"datum.value % 100 === 0","value":-6},"value":-3}}},
"y":{"field":"c","type":"quantitative","title":null,"axis":{"orient":"right","values":[760,770,780,790,800,810,820,830,840,850,860,870,880,890,900,910,920,930,940,950,960],"labels":false,"minExtent":0,"maxExtent":0,"tickSize":{"condition":{"test":"datum.value % 50 === 0","value":-6},"value":-3}}}}}
],
"resolve":{"axis":{"x":"independent","y":"independent"}}},
{"width":605,"height":111,
"layer":[
{"mark":{"type":"line","color":"#0000ff","strokeWidth":1.5,"interpolate":"step","clip":true},
"encoding":{"x":{"field":"t","type":"quantitative","title":null,"scale":{"domain":[-305,324],"nice":false,"zero":false},"axis":{"orient":"bottom","values":[-300,-280,-260,-240,-220,-200,-180,-160,-140,-120,-100,-80,-60,-40,-20,0,20,40,60,80,100,120,140,160,180,200,220,240,260,280,300,320],"labels":true,"labelPadding":6,"maxExtent":16,"labelExpr":"datum.value % 100 === 0 ? datum.label : ''","tickSize":{"condition":{"test":"datum.value % 100 === 0","value":-6},"value":-3}}},
"y":{"field":"d","type":"quantitative","title":null,"scale":{"domain":[1435,1724],"nice":false,"zero":false},"axis":{"orient":"left","values":[1440,1460,1480,1500,1520,1540,1560,1580,1600,1620,1640,1660,1680,1700,1720],"labelPadding":15,"labelExpr":"datum.value % 100 === 0 ? datum.label : ''","tickSize":{"condition":{"test":"datum.value % 100 === 0","value":-6},"value":-3}}}}},
{"mark":{"type":"line","opacity":0,"clip":true},
"encoding":{"x":{"field":"t","type":"quantitative","title":null,"axis":{"orient":"top","values":[-300,-280,-260,-240,-220,-200,-180,-160,-140,-120,-100,-80,-60,-40,-20,0,20,40,60,80,100,120,140,160,180,200,220,240,260,280,300,320],"labels":false,"tickSize":{"condition":{"test":"datum.value % 100 === 0","value":-6},"value":-3}}},
"y":{"field":"d","type":"quantitative","title":null,"axis":{"orient":"right","values":[1440,1460,1480,1500,1520,1540,1560,1580,1600,1620,1640,1660,1680,1700,1720],"labels":false,"minExtent":0,"maxExtent":0,"tickSize":{"condition":{"test":"datum.value % 100 === 0","value":-6},"value":-3}}}}}
],
"resolve":{"axis":{"x":"independent","y":"independent"}}}
]
}
